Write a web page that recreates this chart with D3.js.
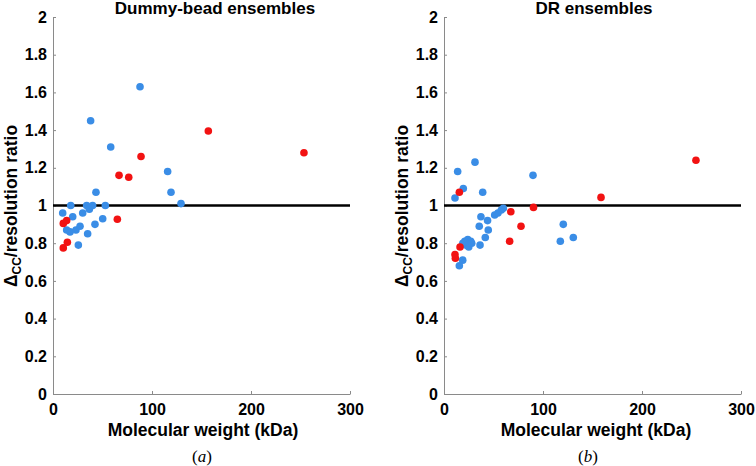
<!DOCTYPE html>
<html><head><meta charset="utf-8">
<script src="https://cdn.jsdelivr.net/npm/d3@7"></script>
<style>
body{margin:0;background:#fff;}
svg{display:block;font-family:"Liberation Sans",Arial,sans-serif;}
</style></head>
<body><svg id="c" width="756" height="466"></svg>
<script>
// ---- data ----
const xTicks = [0, 100, 200, 300];
const yTicks = [0, 0.2, 0.4, 0.6, 0.8, 1, 1.2, 1.4, 1.6, 1.8, 2];
const yTickLabels = ["0","0.2","0.4","0.6","0.8","1","1.2","1.4","1.6","1.8","2"];
const panelTitles = ["Dummy-bead ensembles", "DR ensembles"];
const panelLetters = ["a", "b"];
const xAxisTitle = "Molecular weight (kDa)";
const referenceRatio = 1;

// panel (a) dummy-bead ensembles
const dummyBlueMW  = [9.8,17.9,19.9,13.8,17.2,23.2,27.3,25.6,30,34,36.7,40,35,42.4,50.2,52.9,43.4,38,58.3,87.9,115.8,119.2,129.3];
const dummyBlueRat = [0.96,1.0,0.94,0.87,0.86,0.87,0.89,0.79,0.96,1.0,0.98,1.0,0.85,0.90,0.93,1.0,1.07,1.45,1.31,1.63,1.18,1.07,1.01];
const dummyRedMW   = [10.4,14.5,10.4,13.8,65,66.7,76.5,88.9,156.9,253.5];
const dummyRedRat  = [0.775,0.805,0.905,0.92,0.927,1.16,1.15,1.26,1.395,1.28];

// panel (b) DR ensembles
const drBlueMW  = [11.1,13.8,19.5,31.3,39.1,89.9,59.9,57.9,54.5,51.2,37.3,44,35.6,44.7,41.7,36.4,21,24,27,22,25,28,19,18.9,15.5,120.5,130.6,117.5];
const drBlueRat = [1.04,1.18,1.09,1.23,1.07,1.16,0.985,0.976,0.96,0.95,0.94,0.92,0.89,0.87,0.83,0.79,0.81,0.82,0.81,0.79,0.78,0.80,0.80,0.71,0.68,0.90,0.83,0.81];
const drRedMW   = [11.1,11.5,16.2,15.5,66.3,67.5,77.8,90.4,158.6,254.5];
const drRedRat  = [0.74,0.72,0.78,1.07,0.81,0.967,0.89,0.99,1.043,1.24];

// ---- drawing ----
const svg = d3.select("#c");
const blue = "#3a8de6", red = "#f21212", axisGrey = "#8a8a8a";

const panels = [
  {left:53, right:350, titleX:215, xlabX:203, letterX:202, ylabX:17,
   blue:{x:dummyBlueMW,y:dummyBlueRat}, red:{x:dummyRedMW,y:dummyRedRat}},
  {left:444, right:741, titleX:594, xlabX:596, letterX:588, ylabX:408,
   blue:{x:drBlueMW,y:drBlueRat}, red:{x:drRedMW,y:drRedRat}}
];
const plotTop = 17, plotBottom = 394;

panels.forEach((p, i) => {
  const x = d3.scaleLinear().domain([0, 300]).range([p.left, p.right]);
  const y = d3.scaleLinear().domain([0, 2]).range([plotBottom, plotTop]);
  const g = svg.append("g");

  const ax = g.append("g").attr("transform", `translate(0,${plotBottom})`)
    .call(d3.axisBottom(x).tickValues(xTicks).tickFormat(d => String(d))
      .tickSizeInner(-3).tickSizeOuter(0).tickPadding(10));
  const ay = g.append("g").attr("transform", `translate(${p.left},0)`)
    .call(d3.axisLeft(y).tickValues(yTicks).tickFormat((d, k) => yTickLabels[k])
      .tickSizeInner(-3).tickSizeOuter(0).tickPadding(6));
  [ax, ay].forEach(a => {
    a.selectAll("path,line").attr("stroke", axisGrey).attr("stroke-width", 1);
    a.selectAll("text").attr("fill", "#000").attr("font-size", 16)
      .attr("font-weight", "bold").attr("font-family", "'Liberation Sans',Arial,sans-serif");
  });

  // reference line
  g.append("line")
    .attr("x1", x(0)).attr("x2", x(300))
    .attr("y1", y(referenceRatio)).attr("y2", y(referenceRatio))
    .attr("stroke", "#000").attr("stroke-width", 2.5);

  const blueData = p.blue.x.map((v, k) => [v, p.blue.y[k]]);
  const redData = p.red.x.map((v, k) => [v, p.red.y[k]]);
  g.append("g").selectAll("circle").data(blueData).join("circle")
    .attr("cx", d => x(d[0])).attr("cy", d => y(d[1])).attr("r", 3.8).attr("fill", blue);
  g.append("g").selectAll("circle").data(redData).join("circle")
    .attr("cx", d => x(d[0])).attr("cy", d => y(d[1])).attr("r", 3.8).attr("fill", red);

  // titles
  g.append("text").attr("x", p.titleX).attr("y", 14).attr("text-anchor", "middle")
    .attr("font-size", 17).attr("font-weight", "bold").text(panelTitles[i]);
  g.append("text").attr("x", p.xlabX).attr("y", 436).attr("text-anchor", "middle")
    .attr("font-size", 17.5).attr("font-weight", "bold").text(xAxisTitle);
  const lt = g.append("text").attr("x", p.letterX).attr("y", 462).attr("text-anchor", "middle")
    .attr("font-size", 17).attr("font-family", "'Liberation Serif','Times New Roman',serif");
  lt.append("tspan").text("(");
  lt.append("tspan").attr("font-style", "italic").text(panelLetters[i]);
  lt.append("tspan").text(")");

  const yl = g.append("text")
    .attr("transform", `translate(${p.ylabX},206) rotate(-90)`)
    .attr("text-anchor", "middle").attr("font-size", 17.5).attr("font-weight", "bold");
  yl.append("tspan").text("Δ");
  yl.append("tspan").attr("font-size", 12).attr("dy", 4).text("CC");
  yl.append("tspan").attr("dy", -4).text("/resolution ratio");
});
</script></body></html>
